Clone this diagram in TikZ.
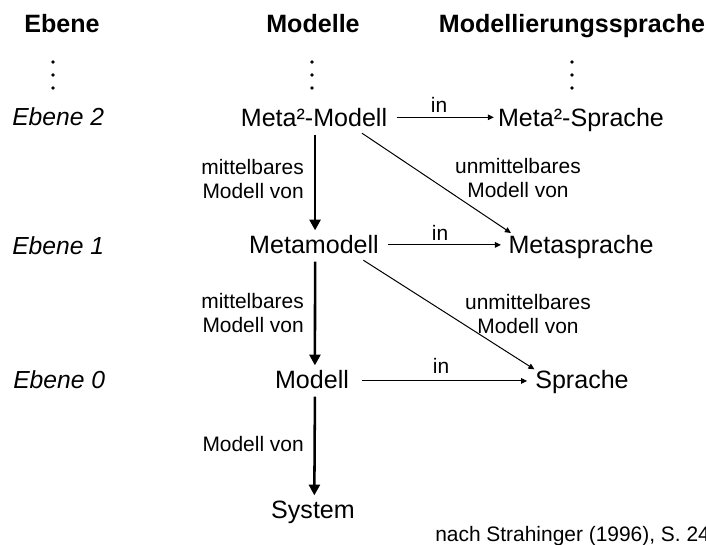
\documentclass[tikz,border=0pt]{standalone}
\usepackage{fontspec}
\setmainfont{Liberation Sans}
\usetikzlibrary{arrows.meta}
\begin{document}
\begin{tikzpicture}[x=0.75pt,y=-0.75pt,
  head/.style={font=\fontsize{18.8}{22}\selectfont\bfseries, inner sep=0pt, anchor=base},
  level/.style={font=\fontsize{18.5}{22}\selectfont\itshape, inner sep=0pt, anchor=base west},
  term/.style={font=\fontsize{18.8}{22}\selectfont, inner sep=3pt, anchor=base,
    text height=13.8pt, text depth=3.2pt},
  lbl/.style={font=\fontsize{15.7}{18.2}\selectfont, inner sep=0pt},
  dotmark/.style={circle, fill=black, inner sep=0pt, minimum size=2.9pt},
  strong/.style={line width=1.9pt, -{Triangle[length=8pt,width=8.2pt]}},
  weak/.style={line width=0.75pt, -{Triangle[length=4.5pt,width=4.2pt]}}]
\useasboundingbox (0,0) rectangle (706,544);

% column headings
\node[head] (hE) at (62,32) {Ebene};
\node[head] (hM) at (313,32) {Modelle};
\node[head] (hS) at (572,32) {Modellierungssprache};

% continuation dots
\foreach \c/\x in {l/53, m/312, r/572} {
  \node[dotmark] (\c1) at (\x,62) {};
  \node[dotmark] (\c2) at (\x,75) {};
  \node[dotmark] (\c3) at (\x,88) {};
}

% level labels
\node[level] (e2) at (12,125) {Ebene 2};
\node[level] (e1) at (12,254) {Ebene 1};
\node[level] (e0) at (13,388) {Ebene 0};

% models
\node[term] (m2) at (314,126) {Meta²-Modell};
\node[term] (m1) at (314,253) {Metamodell};
\node[term] (m0) at (312,388) {Modell};
\node[term] (sys) at (313,518) {System};

% languages
\node[term] (s2) at (581,126) {Meta²-Sprache};
\node[term] (s1) at (581,253) {Metasprache};
\node[term] (s0) at (582,388) {Sprache};

% vertical model relations
\draw[strong] ([xshift=0.8pt]m2.south) -- ([xshift=0.8pt]m1.north);
\draw[strong] ([xshift=0.8pt]m1.south) -- ([xshift=2.2pt]m0.north);
\draw[strong] ([xshift=2.2pt]m0.south) -- ([xshift=1pt]sys.north);

\node[lbl, anchor=east, align=right] (l2) at (304,179) {mittelbares\\Modell von};
\node[lbl, anchor=east, align=right] (l1) at (304,313) {mittelbares\\Modell von};
\node[lbl, anchor=east] (l0) at (304,444) {Modell von};

% "in" relations
\draw[weak, shorten <=4pt] ([yshift=1.2pt]m2.east) -- ([yshift=1.2pt]s2.west);
\draw[weak, shorten <=3.5pt, shorten >=2.5pt] ([yshift=0.8pt]m1.east) -- ([yshift=0.8pt]s1.west);
\draw[weak, shorten <=6.5pt, shorten >=3pt] (m0.east) -- (s0.west);
\node[lbl, anchor=base] (i2) at (439,112) {in};
\node[lbl, anchor=base] (i1) at (440,240) {in};
\node[lbl, anchor=base] (i0) at (441,373) {in};

% direct model relations
\draw[weak] ([xshift=36pt,yshift=1pt]m2.south) -- ([xshift=5pt,yshift=-2pt]s1.north west);
\draw[weak] ([xshift=37pt,yshift=1pt]m1.south) -- ([xshift=2.5pt,yshift=-3pt]s0.north west);
\node[lbl, align=center] (u2) at (518,178) {unmittelbares\\Modell von};
\node[lbl, align=center] (u1) at (528,314) {unmittelbares\\Modell von};

% source
\node[lbl, anchor=base west] (src) at (435,541) {nach Strahinger (1996), S. 24};
\end{tikzpicture}
\end{document}
